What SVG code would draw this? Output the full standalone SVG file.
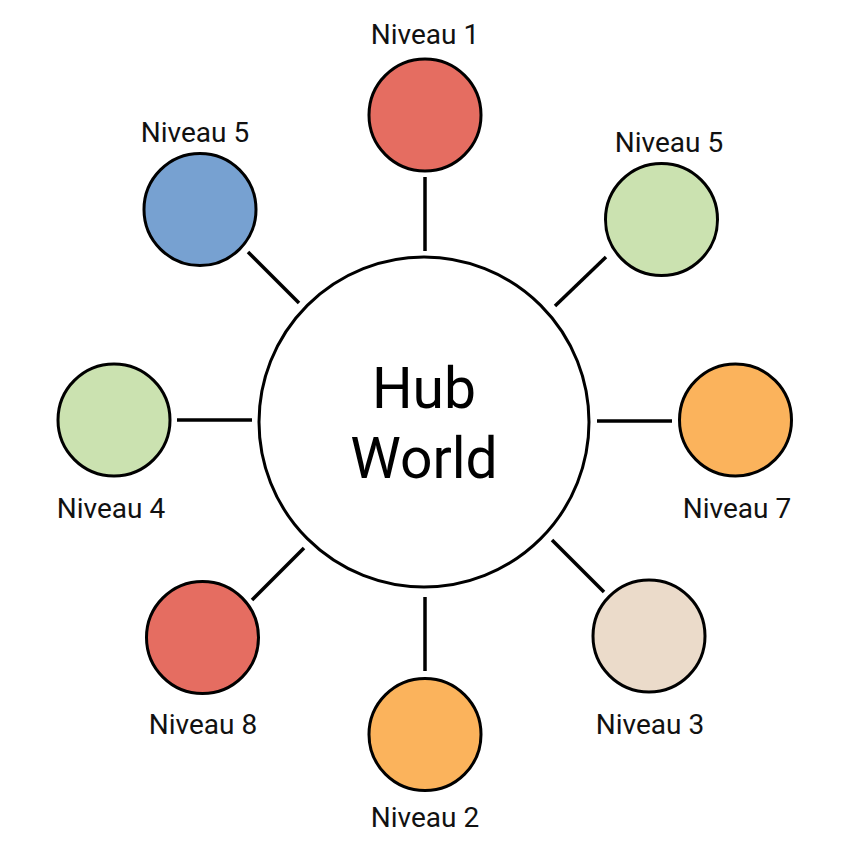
<svg xmlns="http://www.w3.org/2000/svg" width="850" height="850" viewBox="0 0 850 850">
<style>
.c{stroke:#000;stroke-width:3}
.l{stroke:#000;stroke-width:3.5;fill:none}
.t{font-family:Roboto,"Liberation Sans",sans-serif;font-size:28px;fill:#111;text-anchor:middle}
.h{font-family:Roboto,"Liberation Sans",sans-serif;font-size:57px;fill:#000;text-anchor:middle}
</style>
<rect width="850" height="850" fill="#fff"/>
<g id="connectors">
<line class="l" x1="425" y1="177" x2="425" y2="251"/>
<line class="l" x1="248" y1="252" x2="299" y2="303"/>
<line class="l" x1="606" y1="257" x2="555" y2="306"/>
<line class="l" x1="177" y1="420" x2="252" y2="420"/>
<line class="l" x1="597" y1="421" x2="672" y2="421"/>
<line class="l" x1="252" y1="600" x2="304" y2="548"/>
<line class="l" x1="425" y1="597" x2="425" y2="671"/>
<line class="l" x1="552" y1="540" x2="604" y2="592"/>
</g>
<g id="hub">
<circle class="c" cx="424" cy="422" r="165" fill="#fff"/>
<text class="h" x="424" y="408">Hub</text>
<text class="h" x="424" y="478">World</text>
</g>
<g id="n1">
<circle class="c" cx="425" cy="115" r="56" fill="#e56d61"/>
<text class="t" x="425" y="44">Niveau 1</text>
</g>
<g id="n5a">
<circle class="c" cx="200" cy="209.5" r="56" fill="#77a1d1"/>
<text class="t" x="195" y="142">Niveau 5</text>
</g>
<g id="n5b">
<circle class="c" cx="661.5" cy="219.5" r="56" fill="#cbe2b0"/>
<text class="t" x="669" y="152">Niveau 5</text>
</g>
<g id="n4">
<circle class="c" cx="114" cy="420" r="56" fill="#cbe2b0"/>
<text class="t" x="111" y="518">Niveau 4</text>
</g>
<g id="n7">
<circle class="c" cx="735.5" cy="420" r="56" fill="#fbb35c"/>
<text class="t" x="737" y="518">Niveau 7</text>
</g>
<g id="n8">
<circle class="c" cx="202.5" cy="637.5" r="56" fill="#e56d61"/>
<text class="t" x="203" y="734">Niveau 8</text>
</g>
<g id="n2">
<circle class="c" cx="425" cy="734.5" r="56" fill="#fbb35c"/>
<text class="t" x="425" y="827">Niveau 2</text>
</g>
<g id="n3">
<circle class="c" cx="649" cy="636" r="56" fill="#ebdbca"/>
<text class="t" x="650" y="734">Niveau 3</text>
</g>
</svg>
